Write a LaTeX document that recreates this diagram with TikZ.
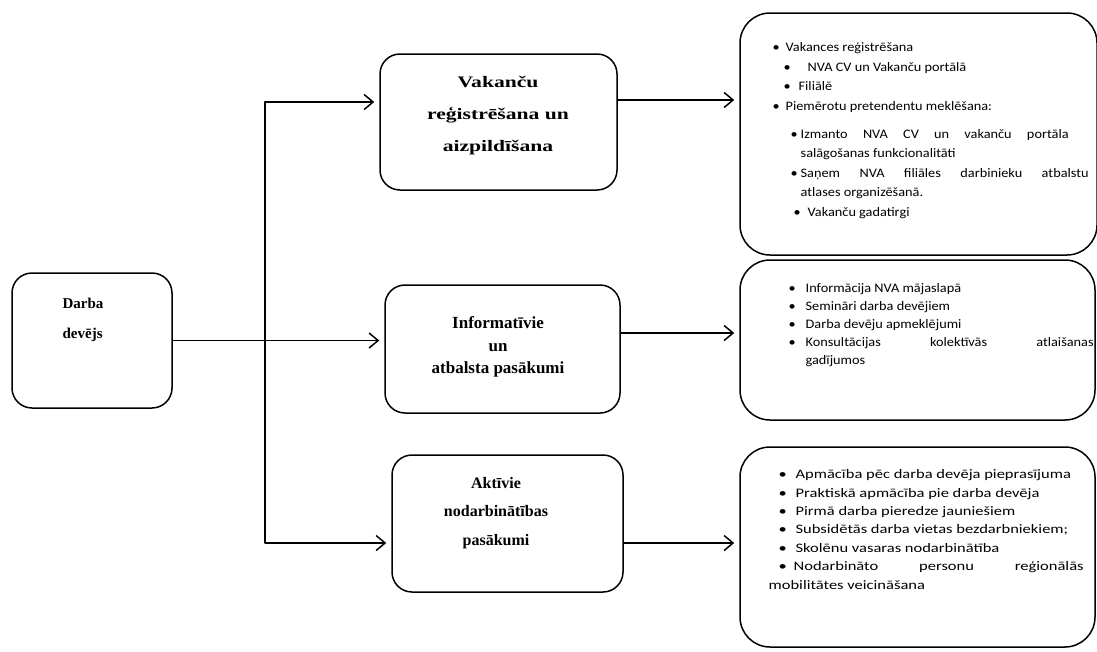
\documentclass[tikz,border=0pt]{standalone}
\usepackage{fontspec}
\setmainfont{Liberation Serif}
\newfontfamily\listfont[FakeStretch=1.1]{Carlito}
\newfontfamily\widelistfont[FakeStretch=1.27]{Carlito}
\newfontfamily\headfont[FakeStretch=1.35]{Liberation Serif}
\usetikzlibrary{arrows.meta}

% bullet line: indent, bullet box width, text
\newcommand{\li}[3]{\hspace*{#1pt}\makebox[#2pt][l]{\textbullet}#3}
% justified line of given width
\newcommand{\jl}[2]{\makebox[#1pt][s]{#2}}

\begin{document}
\begin{tikzpicture}[x=1pt, y=-1pt, line width=1.3pt, line join=round,
  box/.style={draw, line width=1.5pt, rounded corners=20pt, inner sep=0pt},
  listbox/.style={draw, line width=1.5pt, rounded corners=30pt, inner sep=0pt},
  head/.style={align=center, inner sep=0pt, font=\bfseries\fontsize{16}{22.5}\selectfont},
  items/.style={align=left, inner sep=0pt, anchor=north west, font=\listfont\fontsize{13}{19.5}\selectfont},
  arr/.style={-{Straight Barb[length=9pt,width=15pt,line width=1.5pt]}, shorten >=5pt}]

  %% ==== darba devejs ====
  \node[box, minimum width=160pt, minimum height=135pt] (dd) at (92,340.5) {};
  \node[head, align=left, anchor=west, font=\bfseries\fontsize{15}{30}\selectfont] (ddtxt) at (62,320) {Darba\\devējs};

  %% ==== videjie bloki ====
  \node[box, minimum width=237pt, minimum height=136pt] (vak) at (498.5,122) {};
  \node[head, font=\headfont\bfseries\fontsize{16}{32}\selectfont] (vaktxt) at (498,116)
    {Vakanču\\reģistrēšana un\\aizpildīšana};

  \node[box, minimum width=235pt, minimum height=128pt] (info) at (502.5,349) {};
  \node[head, font=\bfseries\fontsize{17}{22.5}\selectfont] (infotxt) at (498,347)
    {Informatīvie\\un\\atbalsta pasākumi};

  \node[box, minimum width=231pt, minimum height=137pt] (akt) at (507.5,523.5) {};
  \node[head, font=\bfseries\fontsize{16}{28.5}\selectfont] (akttxt) at (496,513)
    {Aktīvie\\nodarbinātības\\pasākumi};

  %% ==== saraksti ====
  \node[listbox, minimum width=357pt, minimum height=242pt] (vaklist) at (918.5,134) {};
  \node[items] (vakitems) at (772,42) {%
    \li{0}{13}{Vakances reģistrēšana}\\
    \li{11}{24}{NVA CV un Vakanču portālā}\\
    \li{11}{15}{Filiālē}\\
    \li{0}{13}{Piemērotu pretendentu meklēšana:}\\[8.5pt]
    \li{18}{10}{\jl{268}{Izmanto NVA CV un vakanču portāla}}\\
    \hspace*{28pt}salāgošanas funkcionalitāti\\
    \li{18}{10}{\jl{288}{Saņem NVA filiāles darbinieku atbalstu}}\\
    \hspace*{28pt}atlases organizēšanā.\\
    \li{21}{14}{Vakanču gadatirgi}};

  \node[listbox, minimum width=355pt, minimum height=160pt] (infolist) at (917.5,340) {};
  \node[items, font=\listfont\fontsize{13}{18}\selectfont] (infoitems) at (788,283) {%
    \li{0}{17}{Informācija NVA mājaslapā}\\
    \li{0}{17}{Semināri darba devējiem}\\
    \li{0}{17}{Darba devēju apmeklējumi}\\
    \li{0}{17}{\jl{288}{Konsultācijas kolektīvās atlaišanas}}\\
    \hspace*{17pt}gadījumos};

  \node[listbox, minimum width=355pt, minimum height=200pt] (aktlist) at (917.5,547) {};
  \node[items, font=\widelistfont\fontsize{13}{18.4}\selectfont] (aktitems) at (768,469) {%
    \li{10}{17}{Apmācība pēc darba devēja pieprasījuma}\\
    \li{10}{17}{Praktiskā apmācība pie darba devēja}\\
    \li{10}{17}{Pirmā darba pieredze jauniešiem}\\
    \li{10}{17}{Subsidētās darba vietas bezdarbniekiem;}\\
    \li{10}{17}{Skolēnu vasaras nodarbinātība}\\
    \li{10}{15}{\jl{290}{Nodarbināto personu reģionālās}}\\
    mobilitātes veicināšana};

  %% ==== bultas ====
  \coordinate (split) at (265,340.5);
  \coordinate (vakin) at ([yshift=20pt]vak.west);
  \coordinate (aktin) at ([yshift=-19.5pt]akt.west);
  \coordinate (vakout) at ([yshift=22pt]vak.east);
  \coordinate (infoout) at ([yshift=16pt]info.east);
  \coordinate (aktout) at ([yshift=-19.5pt]akt.east);

  \draw[arr] (dd.east) -- (dd.east -| info.west);
  \draw[arr] (split) |- (vakin);
  \draw[arr] (split) |- (aktin);
  \draw[arr] (vakout) -- (vakout -| vaklist.west);
  \draw[arr] (infoout) -- (infoout -| infolist.west);
  \draw[arr] (aktout) -- (aktout -| aktlist.west);

  \pgfresetboundingbox
  \path[use as bounding box] (0,0) rectangle (1097,651);
\end{tikzpicture}
\end{document}
